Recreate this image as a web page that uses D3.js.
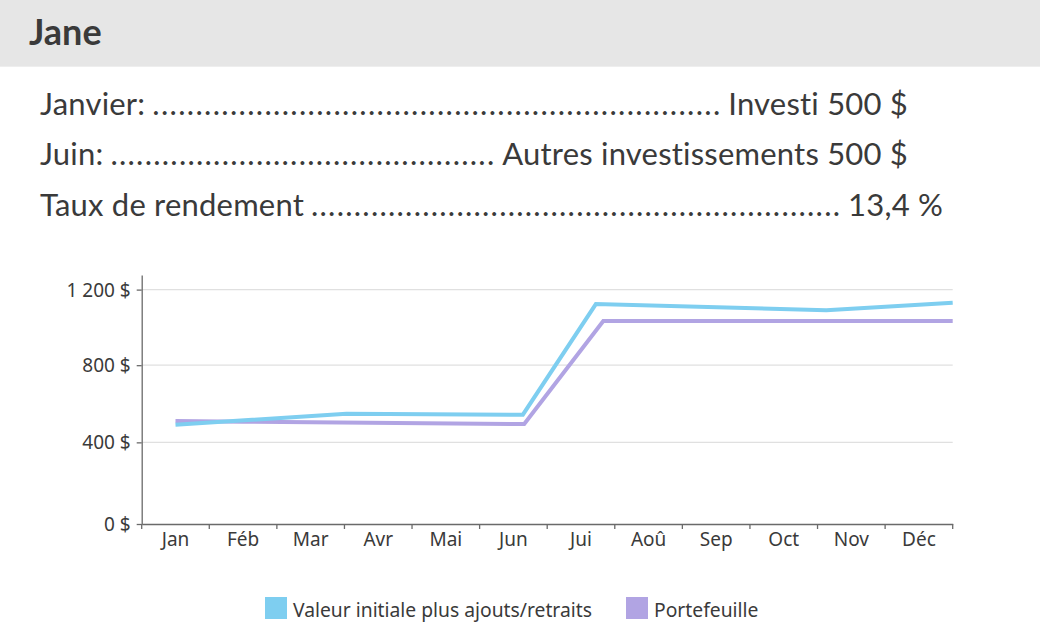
<!DOCTYPE html>
<html><head><meta charset="utf-8">
<script src="https://cdn.jsdelivr.net/npm/d3@7"></script>
<style>
html,body{margin:0;padding:0;background:#fff;}
svg{display:block;}
</style></head>
<body>
<svg id="chart" width="1040" height="639"></svg>
<script>
// ---- data ----
const title = "Jane";
const rowLabels = ["Janvier:", "Juin:", "Taux de rendement"];
const rowValues = ["Investi 500 $", "Autres investissements 500 $", "13,4 %"];
const months = ["Jan","Féb","Mar","Avr","Mai","Jun","Jui","Aoû","Sep","Oct","Nov","Déc"];
const yTickValues = [0, 400, 800, 1200];
const yTickLabels = ["0 $", "400 $", "800 $", "1 200 $"];
const seriesNames = ["Valeur initiale plus ajouts/retraits", "Portefeuille"];
// time positions in months from start of year, and values in $
const valeurTimes  = [0.5, 3.03, 5.64, 6.72, 10.13, 12];
const valeurValues = [490, 547, 542, 1123, 1090, 1130];
const portTimes    = [0.5, 1.5, 5.66, 6.83, 12];
const portValues   = [510, 506, 494, 1033, 1033];

// ---- styles ----
const colors = ["#7ECEF0", "#B1A4E3"];
const textColor = "#3a3a3a";
const svg = d3.select("#chart");

// header
svg.append("rect").attr("x",0).attr("y",0).attr("width",1040).attr("height",67).attr("fill","#e6e6e6");
svg.append("rect").attr("x",0).attr("y",66).attr("width",1040).attr("height",1).attr("fill","#eeeeee");
svg.append("text").attr("x",29).attr("y",45).text(title)
  .attr("font-family","Lato").attr("font-weight",700).attr("font-size",36).attr("fill",textColor);

// rows with dot leaders
const rowBase = [115, 165, 216];
const rowEnd = [908, 908, 943];
rowLabels.forEach((lab,i)=>{
  const g = svg.append("g").attr("font-family","Lato").attr("font-size",31).attr("letter-spacing",0.2).attr("fill",textColor);
  const t1 = g.append("text").attr("x",40).attr("y",rowBase[i]).text(lab);
  const t2 = g.append("text").attr("x",rowEnd[i]).attr("y",rowBase[i]).attr("text-anchor","end").text(rowValues[i]);
  const l1 = t1.node().getComputedTextLength();
  const l2 = t2.node().getComputedTextLength();
  const start = 40 + l1 + 7, end = rowEnd[i] - l2 - 8;
  const w = end - start;
  const n = Math.max(1, Math.round(w / 8.6));
  g.append("text").attr("x",start).attr("y",rowBase[i]).attr("letter-spacing",0).text(".".repeat(n))
    .attr("textLength", w).attr("lengthAdjust","spacing");
});

// chart scales
const x0 = 141.7, x1 = 952.7, yBottom = 524, yTop = 275;
const xBand = d3.scaleBand().domain(months).range([x0, x1]).padding(0);
const xLine = d3.scaleLinear().domain([0, 12]).range([x0, x1]);
const y = d3.scalePow().exponent(0.96).domain([0, 1278]).range([yBottom, yTop]);

// grid
svg.append("g").selectAll("line").data(yTickValues.filter(d=>d>0)).join("line")
  .attr("x1",x0).attr("x2",x1).attr("y1",d=>y(d)).attr("y2",d=>y(d))
  .attr("stroke","#e0e0e0").attr("stroke-width",1.3);

// y axis
const yAxis = svg.append("g").attr("transform",`translate(${x0},0)`)
  .call(d3.axisLeft(y).tickValues(yTickValues).tickFormat((d,i)=>yTickLabels[i]).tickSize(5).tickSizeOuter(0).tickPadding(6));
yAxis.select(".domain").attr("stroke","#6a6a6a").attr("stroke-width",1.3);
yAxis.selectAll(".tick line").attr("stroke","#6a6a6a").attr("stroke-width",1.3);
yAxis.selectAll("text").attr("font-family","Noto Sans").attr("font-size",19).attr("fill",textColor).attr("dy","0.34em");

// x axis
const xAxis = svg.append("g").attr("transform",`translate(0,${yBottom})`)
  .call(d3.axisBottom(xBand).tickSize(0).tickSizeOuter(0).tickPadding(8));
xAxis.select(".domain").attr("stroke","#6a6a6a").attr("stroke-width",1.3);
xAxis.selectAll("text").attr("font-family","Noto Sans").attr("font-size",19).attr("fill",textColor).attr("dy","0.74em");
const bounds = months.map(m=>xBand(m)).concat([x1]);
xAxis.append("g").selectAll("line").data(bounds).join("line")
  .attr("x1",d=>d).attr("x2",d=>d).attr("y1",0).attr("y2",5)
  .attr("stroke","#6a6a6a").attr("stroke-width",1.3);

// lines
const line = d3.line().x(d=>xLine(d[0])).y(d=>y(d[1]));
const seriesData = [
  valeurTimes.map((t,i)=>[t, valeurValues[i]]),
  portTimes.map((t,i)=>[t, portValues[i]])
];
svg.append("g").selectAll("path").data([seriesData[1], seriesData[0]]).join("path")
  .attr("d", line).attr("fill","none")
  .attr("stroke",(d,i)=>i===0?colors[1]:colors[0]).attr("stroke-width",4);

// legend
const legX = [265, 626];
const lg = svg.append("g");
seriesNames.forEach((s,i)=>{
  lg.append("rect").attr("x",legX[i]).attr("y",597).attr("width",22).attr("height",22).attr("fill",colors[i]);
  lg.append("text").attr("x",legX[i]+28).attr("y",617).text(s)
    .attr("font-family","Noto Sans").attr("font-size",19.3).attr("fill",textColor);
});
</script>
</body></html>
